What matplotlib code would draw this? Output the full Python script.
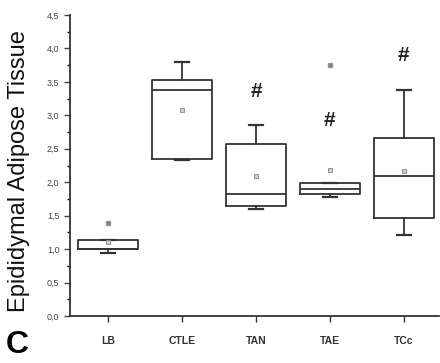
import matplotlib
matplotlib.use("Agg")
import matplotlib.pyplot as plt
from matplotlib.ticker import MultipleLocator, FuncFormatter

plt.rcParams['font.family'] = ['Liberation Sans', 'DejaVu Sans']

# --- data ---
groups = ["LB", "CTLE", "TAN", "TAE", "TCc"]
q1 = [1.00, 2.35, 1.64, 1.82, 1.46]
med = [1.01, 3.38, 1.82, 1.90, 2.09]
q3 = [1.136, 3.53, 2.57, 1.99, 2.66]
wlo = [0.94, 2.33, 1.60, 1.78, 1.21]
whi = [1.136, 3.80, 2.86, 1.99, 3.38]
means = [1.11, 3.08, 2.09, 2.18, 2.17]
outliers = [[1.39], [], [], [3.75], []]
hash_y = [None, None, 3.35, 2.92, 3.90]

stats = []
for i, g in enumerate(groups):
    stats.append(dict(label=g, q1=q1[i], med=med[i], q3=q3[i],
                      whislo=wlo[i], whishi=whi[i], mean=means[i],
                      fliers=outliers[i]))

fig = plt.figure(figsize=(4.4, 3.63), dpi=100)
ax = fig.add_axes([0.159, 0.129, 0.838, 0.830])

ax.bxp(stats, positions=range(1, 6), widths=0.8, showmeans=True,
       boxprops=dict(color='#333333', linewidth=1.3),
       medianprops=dict(color='#333333', linewidth=1.3),
       whiskerprops=dict(color='#333333', linewidth=1.3),
       capprops=dict(color='#333333', linewidth=1.6),
       capwidths=0.18,
       meanprops=dict(marker='s', markersize=3, markerfacecolor='#cccccc',
                      markeredgecolor='#888888', markeredgewidth=0.6),
       flierprops=dict(marker='s', markersize=2.5, markerfacecolor='#777777',
                       markeredgecolor='#999999'))

for i, h in enumerate(hash_y):
    if h is not None:
        ax.text(i + 1, h, "#", ha='center', va='center', fontsize=15,
                fontweight='bold', color='#222222')

ax.set_xlim(0.486, 5.47)
ax.set_ylim(0, 4.5)
ax.yaxis.set_major_locator(MultipleLocator(0.5))
ax.yaxis.set_minor_locator(MultipleLocator(0.25))
ax.yaxis.set_major_formatter(FuncFormatter(lambda v, p: f"{v:.1f}".replace('.', ',')))
ax.tick_params(axis='y', labelsize=6.5, colors='#444444', length=4, width=1)
ax.tick_params(axis='y', which='minor', length=2, width=1)
ax.tick_params(axis='x', labelsize=7.5, colors='#333333', length=4, width=1, pad=10)
for lbl in ax.get_xticklabels():
    lbl.set_fontweight('bold')

ax.spines['top'].set_visible(False)
ax.spines['right'].set_visible(False)
ax.spines['left'].set_linewidth(1.3)
ax.spines['bottom'].set_linewidth(1.3)
ax.spines['left'].set_color('#333333')
ax.spines['bottom'].set_color('#333333')

fig.text(0.043, 0.53, "Epididymal Adipose Tissue", rotation=90, ha='center',
         va='center', fontsize=17, color='#111111')
fig.text(0.04, 0.05, "C", fontsize=23, fontweight='bold', ha='center',
         va='center', color='black')

fig.savefig("out.png", dpi=100)
